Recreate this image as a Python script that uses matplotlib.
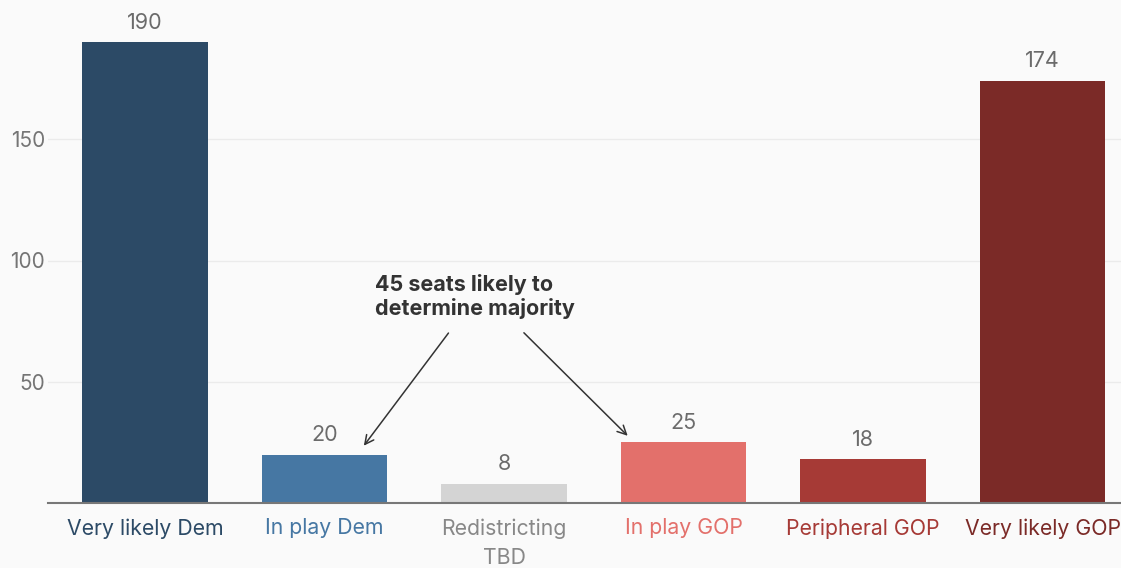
import numpy as np
import matplotlib.pyplot as plt

categories = ["Very likely Dem", "In play Dem", "Redistricting\nTBD",
              "In play GOP", "Peripheral GOP", "Very likely GOP"]
seats = [190, 20, 8, 25, 18, 174]
bar_colors = ["#2c4a66", "#4677a3", "#d4d4d4", "#e3706b", "#a63a36", "#7b2a27"]
label_colors = ["#2c4a66", "#4677a3", "#888888", "#e3706b", "#a63a36", "#7b2a27"]
yticks = [50, 100, 150]
note = "45 seats likely to\ndetermine majority"

plt.rcParams['font.family'] = ['Inter', 'DejaVu Sans']

fig = plt.figure(figsize=(11.21, 5.68), dpi=100)
fig.patch.set_facecolor("#fafafa")
ax = fig.add_axes([48 / 1121, 1 - 503 / 568, 1 - 48 / 1121, (503 - 18) / 568])
ax.set_facecolor("#fafafa")

x = np.arange(len(categories))
ax.bar(x, seats, width=0.70, color=bar_colors, zorder=2)

# value labels above the bars
for xi, v in zip(x, seats):
    ax.annotate(str(v), (xi, v), xytext=(0, 7), textcoords="offset points",
                ha="center", va="bottom", fontsize=15.5, color="#6b6b6b")

ax.set_xlim(-0.54, 5.437)
ax.set_ylim(0, 200)
ax.set_yticks(yticks)
ax.set_yticklabels([str(t) for t in yticks], fontsize=15, color="#757575")
ax.set_xticks(x)
ax.set_xticklabels(categories, fontsize=15.3, linespacing=1.55)
for lbl, c in zip(ax.get_xticklabels(), label_colors):
    lbl.set_color(c)
ax.tick_params(axis="both", length=0)
ax.tick_params(axis="y", pad=2)
ax.tick_params(axis="x", pad=11)

ax.grid(axis="y", color="#ebebeb", linewidth=1, zorder=0)
for s in ["top", "right", "left"]:
    ax.spines[s].set_visible(False)
ax.spines["bottom"].set_color("#777777")
ax.spines["bottom"].set_linewidth(1.5)
ax.spines["bottom"].set_zorder(3)

ax.text(1.28, 94.5, note, ha="left", va="top", fontsize=15.5, fontweight="bold",
        color="#333333", linespacing=1.2)
arrow = dict(arrowstyle="->", color="#333333", lw=1.1, mutation_scale=16)
ax.annotate("", xy=(1.21, 22.7), xytext=(1.70, 71), arrowprops=arrow)
ax.annotate("", xy=(2.70, 26.9), xytext=(2.10, 71), arrowprops=arrow)

fig.savefig("out.png", dpi=100, facecolor=fig.get_facecolor())
